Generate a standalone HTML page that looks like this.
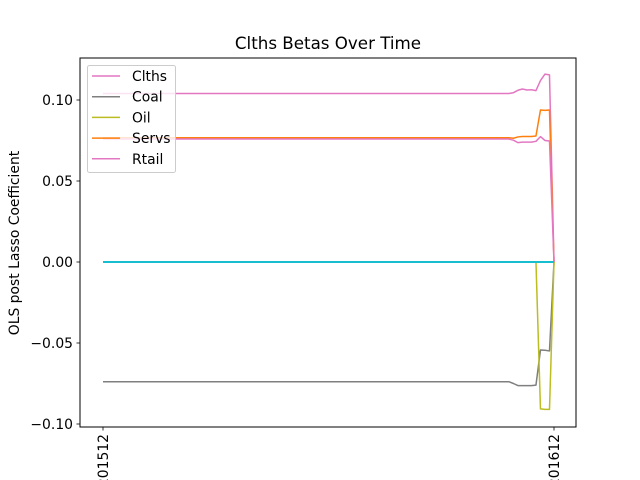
<!DOCTYPE html>
<html><head><meta charset="utf-8"><style>
body{margin:0;background:#fff}
svg{display:block;font-family:"DejaVu Sans","Liberation Sans",sans-serif}
</style></head><body>
<svg id="chart" width="640" height="480" viewBox="0 0 640 480">
<rect x="0" y="0" width="640" height="480" fill="#fff"/>
<text x="328" y="49" font-size="16.7" text-anchor="middle">Clths Betas Over Time</text>
<text transform="translate(19,243) rotate(-90)" font-size="13.9" text-anchor="middle">OLS post Lasso Coefficient</text>
<g id="series"></g>
<rect x="80" y="58" width="496" height="369" fill="none" stroke="#000" stroke-width="1"/>
<g id="axes"></g>
<g id="legend"></g>
</svg>
<script>
const xTickLabels = ["201512", "201612"];
const yTicks = [0.10, 0.05, 0.00, -0.05, -0.10];
const yTickLabels = ["0.10", "0.05", "0.00", "\u22120.05", "\u22120.10"];
const nPoints = 101;
const clths = Array(89).fill(0.104).concat([0.1040,0.1040,0.1045,0.1060,0.1068,0.1062,0.1063,0.1058,0.1120,0.1160,0.1155,0]);
const coal = Array(89).fill(-0.0739).concat([-0.0739,-0.0739,-0.0750,-0.0763,-0.0763,-0.0763,-0.0763,-0.0760,-0.0543,-0.0545,-0.0549,0]);
const oil = Array(89).fill(0).concat([0,0,0,0,0,0,0,0,-0.0907,-0.0910,-0.0910,0]);
const servs = Array(89).fill(0.0767).concat([0.0767,0.0767,0.0764,0.0772,0.0775,0.0775,0.0775,0.0778,0.0938,0.0936,0.0938,0]);
const rtail = Array(89).fill(0.0759).concat([0.0759,0.0759,0.0752,0.0737,0.0740,0.0740,0.0740,0.0745,0.0774,0.0750,0.0747,0]);
const zeroA = Array(101).fill(0);
const zeroB = Array(101).fill(0);
const seriesNames = ["Clths","Coal","Oil","Servs","Rtail"];

const NS = "http://www.w3.org/2000/svg";
function xScale(i){ return 103 + (554-103)*i/(nPoints-1); }
function yScale(v){ return 262 - 1620*v; }
function mk(tag, attrs, parent){ const e=document.createElementNS(NS,tag); for(const k in attrs) e.setAttribute(k,attrs[k]); parent.appendChild(e); return e; }

const sg = document.getElementById('series');
function drawLine(vals, color, name, w){
  const d = vals.map((v,i)=>(i?'L':'M')+xScale(i).toFixed(2)+','+yScale(v).toFixed(2)).join(' ');
  const p = mk('path',{d:d,fill:'none',stroke:color,'stroke-width':w||1.5,'stroke-linejoin':'round'},sg);
  
  
}
drawLine(zeroA,'#7f7f7f','line-zero-gray',1.5);
drawLine(clths,'#e377c2','line-clths');
drawLine(coal,'#7f7f7f','line-coal');
drawLine(oil,'#bcbd22','line-oil');
drawLine(servs,'#ff7f0e','line-servs');
drawLine(rtail,'#e377c2','line-rtail');
drawLine(zeroB,'#17becf','line-zero-cyan',2);

const ax = document.getElementById('axes');
yTicks.forEach((v,i)=>{
  const y=yScale(v);
  const t=mk('line',{x1:76.5,x2:80,y1:y,y2:y,stroke:'#000','stroke-width':0.8},ax);
  
  
  const l=mk('text',{x:73,y:y+5,'font-size':13.9,'text-anchor':'end'},ax);
  l.textContent=yTickLabels[i];
  
  
});
xTickLabels.forEach((s,i)=>{
  const x=xScale(i*(nPoints-1));
  const t=mk('line',{x1:x,x2:x,y1:427,y2:430.5,stroke:'#000','stroke-width':0.8},ax);
  
  
  const l=mk('text',{transform:'translate('+(x+5)+',434) rotate(-90)','font-size':13.9,'text-anchor':'end'},ax);
  l.textContent=s;
  
  
});

const lg = document.getElementById('legend');
const box = mk('rect',{x:87.5,y:65.5,width:88,height:107,rx:2,fill:'#fff','fill-opacity':0.8,stroke:'#ccc','stroke-width':1},lg);


const legColors = ['#e377c2','#7f7f7f','#bcbd22','#ff7f0e','#e377c2'];
seriesNames.forEach((n,i)=>{
  const y=76+20.7*i;
  const g=mk('g',{},lg);
  
  
  mk('line',{x1:92,x2:120,y1:y,y2:y,stroke:legColors[i],'stroke-width':1.5},g);
  const t=mk('text',{x:132,y:y+5,'font-size':13.9},g);
  t.textContent=n;
});
</script>
</body></html>
